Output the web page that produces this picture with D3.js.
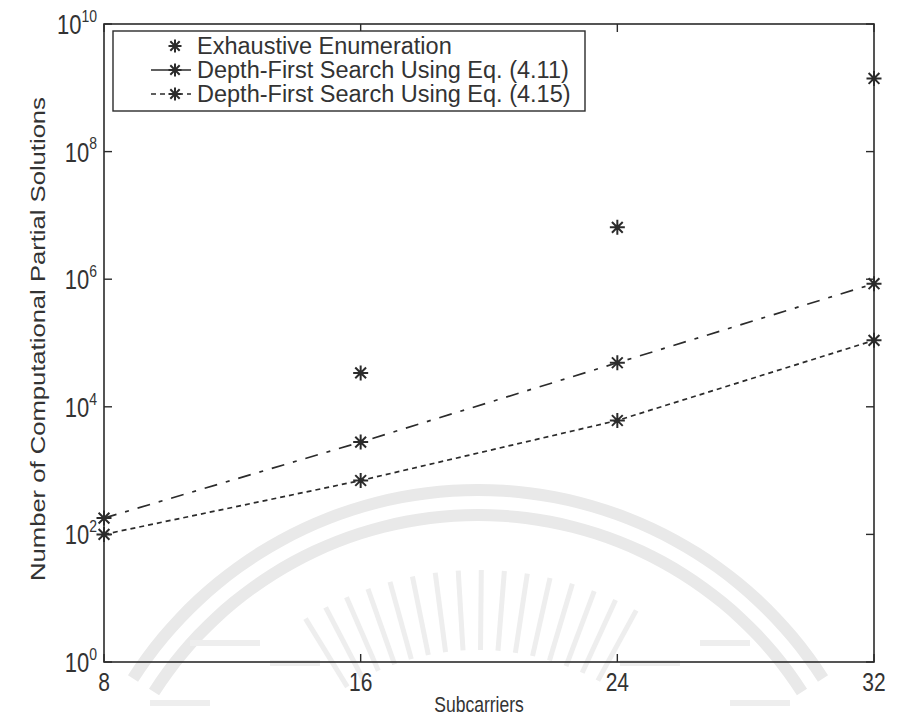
<!DOCTYPE html>
<html>
<head>
<meta charset="utf-8">
<script src="https://cdn.jsdelivr.net/npm/d3@7"></script>
<style>
  html, body { margin: 0; padding: 0; background: #fff; }
  svg { display: block; font-family: "Liberation Sans", Arial, sans-serif; }
</style>
</head>
<body>
<svg id="chart" width="904" height="718"></svg>
<script>
// Subcarrier counts on the x axis
const subcarriers = [8, 16, 24, 32];
// Exhaustive enumeration (only plotted from 16 subcarriers on)
const exhaustiveX = [16, 24, 32];
const exhaustive = [3.4e4, 6.5e6, 1.4e9];
// Depth-first search with Eq. (4.11)
const dfs411 = [1.8e2, 2.8e3, 4.9e4, 8.5e5];
// Depth-first search with Eq. (4.15)
const dfs415 = [1.0e2, 7.0e2, 6.1e3, 1.1e5];
// Axis ticks
const xTicks = [8, 16, 24, 32];
const yExponents = [0, 2, 4, 6, 8, 10];
const legendLabels = [
  "Exhaustive Enumeration",
  "Depth-First Search Using Eq. (4.11)",
  "Depth-First Search Using Eq. (4.15)"
];

const svg = d3.select("#chart");
const margin = { left: 104, right: 30, top: 24, bottom: 56 };
const W = 904, H = 718;
const x0 = margin.left, x1 = W - margin.right;
const y0 = margin.top, y1 = H - margin.bottom;

const x = d3.scaleLinear().domain([8, 32]).range([x0, x1]);
const y = d3.scaleLog().domain([1, 1e10]).range([y1, y0]);

const ink = "#2b2b2b";
const textInk = "#333";
const tall = 1.22;   // glyphs are drawn slightly taller than wide

// faint seal printed behind the plot
const seal = svg.append("g").attr("fill", "none");
const cx = 478, cy = 900;
[410, 385].forEach(r => {
  seal.append("path")
    .attr("d", d3.arc()({ innerRadius: r - 6, outerRadius: r + 6, startAngle: -1.0, endAngle: 1.0 }))
    .attr("transform", `translate(${cx},${cy})`)
    .attr("fill", "#e9e9e9");
});
d3.range(-0.55, 0.56, 0.07).forEach(a => {
  const rIn = 250, rOut = 330;
  seal.append("line")
    .attr("x1", cx + rIn * Math.sin(a)).attr("y1", cy - rIn * Math.cos(a))
    .attr("x2", cx + rOut * Math.sin(a)).attr("y2", cy - rOut * Math.cos(a))
    .attr("stroke-width", 5).attr("stroke", "#eeeeee");
});
[[190, 640, 70], [270, 660, 50], [620, 660, 60], [700, 640, 50], [150, 700, 60], [730, 700, 60]].forEach(d => {
  seal.append("rect").attr("x", d[0]).attr("y", d[1]).attr("width", d[2]).attr("height", 6)
    .attr("fill", "#eeeeee");
});

// plot box
svg.append("rect")
  .attr("x", x0).attr("y", y0).attr("width", x1 - x0).attr("height", y1 - y0)
  .attr("fill", "none").attr("stroke", ink).attr("stroke-width", 1.6);

// text drawn at (px,py) with a vertical stretch
function label(g, px, py, size, anchor) {
  return g.append("text")
    .attr("transform", `translate(${px},${py}) scale(1,${tall})`)
    .attr("text-anchor", anchor).attr("font-size", size).attr("fill", textInk);
}

// x ticks (inward, top and bottom)
const tickLen = 8;
xTicks.forEach(t => {
  svg.append("line").attr("x1", x(t)).attr("x2", x(t)).attr("y1", y1).attr("y2", y1 - tickLen)
    .attr("stroke", ink).attr("stroke-width", 1.4);
  svg.append("line").attr("x1", x(t)).attr("x2", x(t)).attr("y1", y0).attr("y2", y0 + tickLen)
    .attr("stroke", ink).attr("stroke-width", 1.4);
  label(svg, x(t), y1 + 29, 21, "middle").text(t);
});

// y ticks (inward, left and right) with power-of-ten labels
yExponents.forEach(e => {
  const v = Math.pow(10, e);
  svg.append("line").attr("x1", x0).attr("x2", x0 + tickLen).attr("y1", y(v)).attr("y2", y(v))
    .attr("stroke", ink).attr("stroke-width", 1.4);
  svg.append("line").attr("x1", x1).attr("x2", x1 - tickLen).attr("y1", y(v)).attr("y2", y(v))
    .attr("stroke", ink).attr("stroke-width", 1.4);
  const t = label(svg, x0 - 7, y(v) + 10, 22, "end");
  t.append("tspan").text("10");
  t.append("tspan").attr("dy", -10).attr("font-size", 14).text(e);
});

// axis titles
label(svg, (x0 + x1) / 2 - 10, y1 + 50, 17.5, "middle").text("Subcarriers");
svg.append("text")
  .attr("transform", `translate(${45},${(y0 + y1) / 2 - 4}) rotate(-90) scale(${tall},1)`)
  .attr("text-anchor", "middle").attr("font-size", 21).attr("fill", textInk)
  .text("Number of Computational Partial Solutions");

// asterisk marker: plus and cross combined
function star(g, px, py, s) {
  const r = s / 2, d = r * 0.72;
  g.append("path")
    .attr("d", `M${px - r},${py}L${px + r},${py}M${px},${py - r}L${px},${py + r}` +
               `M${px - d},${py - d}L${px + d},${py + d}M${px - d},${py + d}L${px + d},${py - d}`)
    .attr("stroke", ink).attr("stroke-width", 2).attr("fill", "none");
}

const line = d3.line().x((d, i) => x(subcarriers[i])).y(d => y(d));

const plot = svg.append("g");
plot.append("path").datum(dfs411).attr("d", line)
  .attr("fill", "none").attr("stroke", ink).attr("stroke-width", 1.7)
  .attr("stroke-dasharray", "13,9,4,9");
plot.append("path").datum(dfs415).attr("d", line)
  .attr("fill", "none").attr("stroke", ink).attr("stroke-width", 1.7)
  .attr("stroke-dasharray", "5,4");

dfs411.forEach((v, i) => star(plot, x(subcarriers[i]), y(v), 15));
dfs415.forEach((v, i) => star(plot, x(subcarriers[i]), y(v), 15));
exhaustive.forEach((v, i) => star(plot, x(exhaustiveX[i]), y(v), 15));

// legend
const lg = svg.append("g");
const lx = 113, ly = 31, lw = 472, lh = 80;
lg.append("rect").attr("x", lx).attr("y", ly).attr("width", lw).attr("height", lh)
  .attr("fill", "#fff").attr("stroke", ink).attr("stroke-width", 1.4);
const rowY = [ly + 15, ly + 39, ly + 63];
const dashes = [null, null, "5,4"];
legendLabels.forEach((lab, i) => {
  const ry = rowY[i];
  if (i > 0) {
    lg.append("line").attr("x1", lx + 38).attr("x2", lx + 78).attr("y1", ry).attr("y2", ry)
      .attr("stroke", ink).attr("stroke-width", 1.6)
      .attr("stroke-dasharray", dashes[i]);
  }
  star(lg, lx + 62, ry, 13);
  lg.append("text").attr("x", lx + 84).attr("y", ry + 8)
    .attr("font-size", 23.5).attr("fill", textInk).text(lab);
});
</script>
</body>
</html>
